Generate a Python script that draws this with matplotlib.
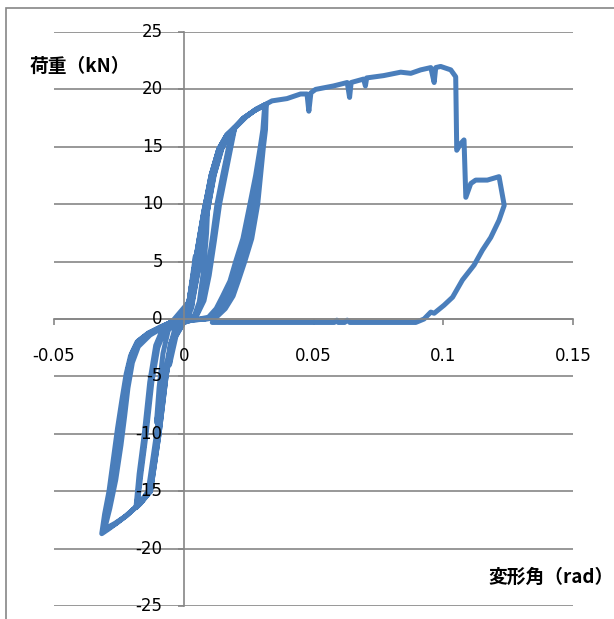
import matplotlib.pyplot as plt
import matplotlib.transforms as mtransforms
from matplotlib.patches import Rectangle

# --- data (rad, kN) ---
# small cycles +-0.005 and +-0.01
small_x = [0.0, 0.002, 0.0045, 0.004, 0.003, 0.0015,
           0.0, -0.003, -0.0055, -0.0048, -0.003, -0.001,
           0.002, 0.0048, 0.0078, 0.0095, 0.0088, 0.0075, 0.006, 0.004,
           0.0, -0.004, -0.0075, -0.0105, -0.0095, -0.008, -0.006, -0.002]
small_y = [0.0, 1.5, 5.5, 3.0, 1.0, 0.0,
           -0.3, -1.5, -4.0, -2.0, -0.5, 0.0,
           1.5, 5.5, 9.5, 11.2, 7.5, 4.0, 1.5, 0.2,
           -0.3, -1.8, -5.0, -9.0, -6.0, -3.0, -1.0, 0.0]

# +-0.02 cycles (three)
mid_x = [0.002, 0.0045, 0.0075, 0.0105, 0.0135, 0.0165, 0.0195,
         0.0173, 0.015, 0.0128, 0.011, 0.009, 0.007, 0.0045, 0.002,
         0.0, -0.002, -0.0045, -0.0068, -0.0095, -0.0128, -0.0165, -0.018,
         -0.0165, -0.0145, -0.0123, -0.010, -0.007, -0.003,
         0.0025, 0.005, 0.008, 0.011, 0.014, 0.017, 0.0197,
         0.0178, 0.0155, 0.0133, 0.0113, 0.0093, 0.0072, 0.0047, 0.002,
         0.0, -0.0022, -0.0048, -0.0072, -0.0100, -0.0132, -0.0168, -0.0182,
         -0.0168, -0.0148, -0.0127, -0.0104, -0.0075, -0.0035,
         0.003, 0.0058, 0.0088, 0.0118, 0.0148, 0.0175, 0.0196,
         0.0182, 0.0160, 0.0138, 0.0118, 0.0098, 0.0078, 0.005, 0.0025,
         0.0, -0.0024, -0.0051, -0.0076, -0.0105, -0.0137, -0.0172, -0.0184,
         -0.0172, -0.0152, -0.0131, -0.0108, -0.0078, -0.004]
mid_y = [1.5, 5.0, 9.0, 12.5, 14.8, 16.0, 16.6,
         15.0, 12.5, 10.0, 7.0, 4.0, 1.8, 0.3, 0.0,
         -0.3, -0.6, -2.0, -5.0, -10.0, -15.0, -16.0, -16.3,
         -13.5, -10.0, -5.5, -2.5, -0.8, -0.1,
         1.2, 4.5, 9.0, 12.6, 14.9, 16.1, 16.7,
         15.2, 12.6, 10.0, 6.8, 3.8, 1.6, 0.3, 0.0,
         -0.3, -0.7, -2.2, -5.2, -10.0, -15.0, -16.1, -16.4,
         -13.5, -10.0, -5.5, -2.3, -0.7, -0.1,
         1.0, 4.5, 9.0, 12.6, 14.9, 16.1, 16.6,
         15.0, 12.5, 10.0, 6.8, 3.8, 1.6, 0.3, 0.0,
         -0.3, -0.7, -2.2, -5.2, -10.0, -15.0, -16.1, -16.4,
         -13.5, -10.0, -5.5, -2.3, -0.7, -0.1]

# +-0.03 cycles (three)
big_x = [0.002, 0.0045, 0.0075, 0.0105, 0.0135, 0.0165, 0.0195, 0.023, 0.0276, 0.0318,
         0.0315, 0.0307, 0.0296, 0.0285, 0.0262, 0.0235, 0.0210, 0.019, 0.016, 0.0125, 0.009,
         0.003, 0.0, -0.002, -0.0045, -0.0068, -0.0095, -0.0128, -0.0165, -0.018,
         -0.022, -0.026, -0.029, -0.0316,
         -0.0305, -0.0288, -0.027, -0.0255, -0.0238, -0.0222, -0.0205, -0.018, -0.014, -0.009, -0.004,
         0.0, 0.0025, 0.005, 0.008, 0.011, 0.014, 0.017, 0.0198, 0.0232, 0.0275, 0.0312,
         0.0305, 0.0295, 0.0277, 0.0255, 0.0228, 0.0200, 0.0178, 0.015, 0.0125, 0.0095, 0.006,
         0.002, -0.0005, -0.0025, -0.005, -0.0072, -0.0100, -0.0132, -0.0170, -0.0185,
         -0.0225, -0.0265, -0.0305,
         -0.0285, -0.0262, -0.0242, -0.0228, -0.0215, -0.0198, -0.0175, -0.013, -0.007, -0.002,
         0.0028, 0.0055, 0.0085, 0.0115, 0.0145, 0.0175, 0.0200, 0.024, 0.028, 0.0316,
         0.0310, 0.0300, 0.0285, 0.0268, 0.0245, 0.0218, 0.0195, 0.017, 0.014, 0.011, 0.008,
         0.003, 0.0, -0.0022, -0.0047, -0.0070, -0.0098, -0.0130, -0.0168, -0.0183,
         -0.0222, -0.026, -0.031,
         -0.0296, -0.0278, -0.0262, -0.0245, -0.0230, -0.0214, -0.0198, -0.0175, -0.0135, -0.008, -0.003]
big_y = [1.5, 5.0, 9.0, 12.5, 14.8, 16.0, 16.6, 17.5, 18.2, 18.7,
         16.5, 15.0, 12.5, 10.0, 7.0, 5.0, 3.3, 2.0, 0.9, 0.15, 0.0,
         -0.1, -0.3, -0.6, -2.0, -5.0, -10.0, -15.0, -16.0, -16.3,
         -17.1, -17.8, -18.3, -18.7,
         -17.0, -15.0, -12.0, -9.5, -7.0, -4.8, -3.2, -2.0, -1.3, -0.7, -0.2,
         0.0, 1.2, 4.5, 9.0, 12.6, 14.9, 16.1, 16.7, 17.5, 18.2, 18.6,
         16.5, 15.0, 12.5, 10.0, 7.0, 5.0, 3.3, 2.0, 0.9, 0.15, 0.0,
         -0.1, -0.3, -0.7, -2.2, -5.2, -10.0, -15.0, -16.1, -16.4,
         -17.2, -17.8, -18.3,
         -16.5, -14.0, -11.0, -8.5, -6.0, -3.8, -2.4, -1.4, -0.6, 0.0,
         1.0, 4.2, 8.6, 12.4, 14.8, 16.1, 16.7, 17.6, 18.3, 18.7,
         16.5, 15.0, 12.5, 10.0, 7.0, 5.0, 3.3, 2.0, 0.9, 0.15, 0.0,
         -0.1, -0.3, -0.65, -2.1, -5.1, -10.0, -15.0, -16.05, -16.35,
         -17.15, -17.8, -18.5,
         -16.8, -14.5, -12.0, -9.0, -6.5, -4.3, -2.9, -1.9, -1.2, -0.6, -0.1]

# final loading up to failure
env_x = [0.002, 0.0045, 0.0075, 0.0105, 0.0135, 0.0165, 0.0191, 0.023, 0.0276, 0.0307,
         0.034, 0.0398, 0.045, 0.0475, 0.0482, 0.049, 0.0508, 0.0577, 0.063, 0.0639,
         0.0645, 0.0693, 0.0700, 0.0705, 0.077, 0.0836, 0.0875, 0.0913, 0.0952, 0.0965,
         0.0971, 0.099, 0.1029, 0.1048, 0.1052, 0.1068, 0.108, 0.1087, 0.1106, 0.1125,
         0.117, 0.1215, 0.1235]
env_y = [1.3, 4.8, 8.8, 12.4, 14.8, 16.0, 16.6, 17.5, 18.2, 18.6,
         19.0, 19.2, 19.6, 19.6, 18.1, 19.7, 20.0, 20.3, 20.6, 19.3,
         20.6, 20.9, 20.3, 21.0, 21.2, 21.5, 21.4, 21.7, 21.9, 20.6,
         21.9, 22.0, 21.7, 21.1, 14.7, 15.3, 15.6, 10.6, 11.8, 12.1,
         12.1, 12.4, 9.9]

# final unloading
unl_x = [0.1215, 0.1183, 0.1151, 0.1119, 0.1074, 0.1036, 0.1003, 0.0965, 0.0952,
         0.0926, 0.0894, 0.064, 0.063, 0.062, 0.0595, 0.059, 0.058, 0.011]
unl_y = [8.6, 7.1, 6.0, 4.7, 3.4, 1.9, 1.2, 0.5, 0.6,
         0.0, -0.3, -0.3, -0.1, -0.3, -0.3, -0.1, -0.3, -0.3]

x_ticks = [-0.05, 0, 0.05, 0.1, 0.15]
x_tick_labels = ['-0.05', '0', '0.05', '0.1', '0.15']
y_ticks = [-25, -20, -15, -10, -5, 0, 5, 10, 15, 20, 25]

xs = small_x + mid_x + big_x + env_x + unl_x
ys = small_y + mid_y + big_y + env_y + unl_y

W, H = 614, 619
fig = plt.figure(figsize=(W / 100, H / 100), dpi=100)
ax = fig.add_axes([54 / W, 13 / H, 519 / W, 574 / H])

grid_c = '#868686'
ax.set_xlim(-0.05, 0.15)
ax.set_ylim(-25, 25)
ax.set_axisbelow(True)
ax.set_yticks(y_ticks)
ax.set_xticks(x_ticks)
ax.yaxis.grid(True, color=grid_c, linewidth=1.2)
ax.xaxis.grid(False)
for s in ['top', 'right']:
    ax.spines[s].set_visible(False)
for s in ['left', 'bottom']:
    ax.spines[s].set_position(('data', 0))
    ax.spines[s].set_color(grid_c)
    ax.spines[s].set_linewidth(1.2)
ax.tick_params(axis='both', colors=grid_c, length=4.3, width=1.2,
               labelleft=False, labelbottom=False)

ax.plot(xs, ys, color='#4a7ebb', linewidth=3.6, solid_joinstyle='round',
        solid_capstyle='round', zorder=2)

# tick labels drawn on top of the curve
ylab_tr = mtransforms.offset_copy(ax.transData, fig=fig, x=-21, y=0, units='dots')
for v in y_ticks:
    ax.text(0, v, str(v), transform=ylab_tr, ha='right', va='center',
            fontsize=12, color='black', zorder=5, clip_on=False)
xlab_tr = mtransforms.offset_copy(ax.transData, fig=fig, x=0, y=-28, units='dots')
for v, lab in zip(x_ticks, x_tick_labels):
    ax.text(v, 0, lab, transform=xlab_tr, ha='center', va='top',
            fontsize=12, color='black', zorder=5, clip_on=False)

cjk = ['Noto Sans CJK JP', 'DejaVu Sans']
fig.text(30 / W, 1 - 66 / H, '荷重（kN）', family=cjk, fontweight='bold',
         fontsize=13.5, ha='left', va='center')
fig.text(614 / W, 1 - 577 / H, '変形角（rad）', family=cjk, fontweight='bold',
         fontsize=13.5, ha='right', va='center')

# outer chart border
fig.patches.append(Rectangle((6 / W, -0.1), 1.2, 1.1 - 8 / H, transform=fig.transFigure,
                             fill=False, edgecolor=grid_c, linewidth=1.2))

fig.savefig('out.png', dpi=100)
